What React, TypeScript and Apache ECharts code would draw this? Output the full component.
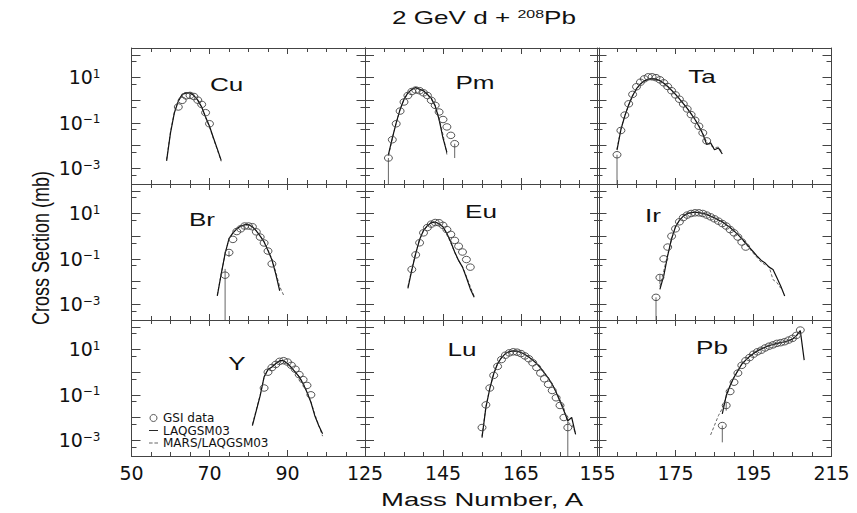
import React, { useEffect, useRef } from 'react';
import * as echarts from 'echarts';

const W = 857;
const H = 513;

// ---------------- data (cross sections in mb, consecutive mass numbers from *Start) ----------------
const panelNames = ['Cu', 'Pm', 'Ta', 'Br', 'Eu', 'Ir', 'Y', 'Lu', 'Pb'];
const colMin = [50, 125, 155];
const colSpan = 60;
const colTickLabels = [[50, 70, 90], [125, 145, 165], [155, 175, 195, 215]];
const yTickLabelExps = [1, -1, -3];
const yMin = 2e-4;
const yMax = 200;

const cuGsiStart = 62;
const cuGsi = [0.5, 0.98, 1.55, 1.62, 1.45, 1.0, 0.65, 0.28, 0.091];
const cuLaqStart = 59;
const cuLaq = [0.0021, 0.036, 0.28, 0.91, 1.8, 2.1, 2.1, 1.6, 1.0, 0.5, 0.18, 0.071, 0.022, 0.0071, 0.0022];
const cuMarsStart = 59;
const cuMars = [0.0024, 0.04, 0.3, 0.95, 1.75, 2.0, 2.0, 1.55, 0.95, 0.48, 0.17, 0.065, 0.02, 0.0065, 0.002];

const pmGsiStart = 131;
const pmGsi = [0.0028, 0.018, 0.091, 0.33, 0.83, 1.6, 2.4, 2.8, 2.6, 2.1, 1.6, 0.98, 0.59, 0.3, 0.14, 0.066, 0.028, 0.012];
const pmLaqStart = 131;
const pmLaq = [0.0039, 0.021, 0.1, 0.39, 1.1, 2.1, 3.0, 3.6, 3.0, 2.6, 1.8, 1.2, 0.55, 0.14, 0.021, 0.005];
const pmMarsStart = 131;
const pmMars = [0.0035, 0.02, 0.1, 0.38, 1.05, 2.0, 2.9, 3.4, 3.1, 2.5, 1.7, 1.1, 0.6, 0.16, 0.03, 0.004];

const taGsiStart = 160;
const taGsi = [0.0039, 0.046, 0.22, 0.69, 1.8, 3.9, 6.2, 8.7, 10.7, 10.7, 9.8, 7.9, 5.8, 4.0, 2.6, 1.7, 1.1, 0.68, 0.41, 0.23, 0.13, 0.071, 0.036, 0.016];
const taLaqStart = 160;
const taLaq = [0.0063, 0.05, 0.2, 0.63, 1.6, 3.2, 5.2, 7.1, 8.5, 8.9, 8.5, 7.2, 5.6, 4.0, 2.7, 1.8, 1.15, 0.71, 0.43, 0.25, 0.14, 0.071, 0.032, 0.011, 0.013, 0.0065, 0.0078, 0.0042];
const taMarsStart = 160;
const taMars = [0.007, 0.055, 0.21, 0.6, 1.5, 3.0, 5.0, 7.0, 8.3, 8.8, 8.4, 7.3, 5.7, 4.1, 2.8, 1.85, 1.2, 0.74, 0.45, 0.26, 0.15, 0.075, 0.035, 0.014, 0.01, 0.008, 0.0085, 0.005];

const brGsiStart = 74;
const brGsi = [0.019, 0.19, 0.72, 1.6, 2.1, 2.8, 2.8, 2.6, 1.55, 0.91, 0.5, 0.22, 0.06];
const brLaqStart = 72;
const brLaq = [0.0023, 0.021, 0.17, 0.78, 1.4, 2.1, 2.8, 3.2, 3.2, 2.6, 1.7, 1.0, 0.55, 0.23, 0.091, 0.021, 0.0039];
const brMarsStart = 72;
const brMars = [0.0025, 0.022, 0.16, 0.75, 1.35, 2.0, 2.7, 3.1, 3.1, 2.6, 1.75, 1.05, 0.58, 0.25, 0.1, 0.026, 0.006, 0.0025];

const euGsiStart = 137;
const euGsi = [0.034, 0.15, 0.51, 1.4, 2.4, 3.4, 4.0, 3.9, 3.0, 1.95, 1.2, 0.65, 0.36, 0.2, 0.093, 0.043];
const euLaqStart = 136;
const euLaq = [0.005, 0.032, 0.17, 0.71, 1.8, 2.9, 4.0, 4.2, 3.5, 2.6, 1.3, 0.55, 0.2, 0.085, 0.043, 0.015, 0.0047, 0.002];
const euMarsStart = 136;
const euMars = [0.006, 0.035, 0.18, 0.7, 1.7, 2.8, 3.8, 4.1, 3.5, 2.5, 1.25, 0.5, 0.19, 0.08, 0.045, 0.017, 0.006, 0.0022];

const irGsiStart = 170;
const irGsi = [0.002, 0.015, 0.1, 0.33, 1.0, 2.1, 4.3, 6.6, 8.5, 10, 10.7, 10.7, 10, 8.5, 7.1, 5.8, 4.6, 3.6, 2.8, 1.95, 1.4, 0.91, 0.55, 0.33];
const irLaqStart = 171;
const irLaq = [0.0045, 0.018, 0.14, 0.78, 2.6, 5.0, 7.6, 10, 11, 11.5, 11, 10.2, 9.1, 7.6, 6.5, 5.2, 4.3, 3.2, 2.4, 1.7, 1.17, 0.78, 0.5, 0.31, 0.2, 0.126, 0.085, 0.065, 0.043, 0.034, 0.0145, 0.0062, 0.0023];
const irMarsStart = 171;
const irMars = [0.006, 0.03, 0.16, 0.75, 2.5, 4.9, 7.5, 9.8, 10.8, 11.2, 10.8, 10, 9, 7.6, 6.4, 5.2, 4.2, 3.2, 2.4, 1.7, 1.15, 0.74, 0.46, 0.28, 0.17, 0.11, 0.07, 0.055, 0.045, 0.012, 0.009, 0.005];

const yGsiStart = 84;
const yGsi = [0.2, 1.0, 1.6, 2.2, 3.0, 3.2, 2.8, 2.0, 1.35, 0.78, 0.47, 0.26, 0.1];
const yLaqStart = 81;
const yLaq = [0.0044, 0.02, 0.093, 0.62, 1.3, 1.7, 2.4, 3.2, 3.2, 2.4, 1.6, 1.0, 0.62, 0.31, 0.13, 0.047, 0.012, 0.0044, 0.0019];
const yMarsStart = 81;
const yMars = [0.005, 0.022, 0.1, 0.6, 1.25, 1.65, 2.3, 3.0, 3.1, 2.4, 1.6, 1.05, 0.65, 0.33, 0.14, 0.05, 0.014, 0.0045, 0.0015];

const luGsiStart = 155;
const luGsi = [0.0036, 0.036, 0.2, 0.72, 1.8, 3.6, 5.6, 7.1, 7.9, 7.6, 6.6, 5.2, 3.9, 2.6, 1.6, 0.91, 0.51, 0.29, 0.155, 0.074, 0.034, 0.01, 0.0036];
const luLaqStart = 155;
const luLaq = [0.0013, 0.028, 0.19, 0.85, 2.4, 4.4, 6.6, 8.1, 8.7, 8.5, 7.4, 6.0, 4.7, 3.4, 2.4, 1.55, 0.91, 0.55, 0.29, 0.13, 0.052, 0.02, 0.0072, 0.01, 0.0018];
const luMarsStart = 155;
const luMars = [0.0015, 0.03, 0.2, 0.82, 2.3, 4.3, 6.4, 7.9, 8.5, 8.4, 7.4, 6.1, 4.8, 3.5, 2.5, 1.6, 0.95, 0.57, 0.3, 0.14, 0.06, 0.025, 0.006, 0.005, 0.002];

const pbGsiStart = 187;
const pbGsi = [0.0044, 0.034, 0.14, 0.36, 0.91, 2.0, 3.2, 4.4, 6.2, 7.9, 9.3, 11.7, 14, 16, 18.6, 20, 22, 26, 31, 42, 72];
const pbLaqStart = 187;
const pbLaq = [0.0145, 0.093, 0.26, 0.6, 1.17, 2.3, 3.4, 5.0, 6.6, 8.7, 10.7, 12.6, 15, 16.6, 18.6, 20.4, 21.9, 24.5, 28.8, 40.7, 67.6, 3.4];
const pbMarsStart = 184;
const pbMars = [0.0017, 0.0045, 0.012, 0.025, 0.08, 0.24, 0.58, 1.1, 2.2, 3.3, 4.8, 6.4, 8.4, 10.4, 12.3, 14.6, 16.4, 18.2, 20, 21.5, 24, 28, 39, 65];

// error bars: panel, mass number, upper, lower (mb)
const errPanel = ['Pm', 'Pm', 'Ta', 'Br', 'Br', 'Ir', 'Ir', 'Lu', 'Pb', 'Pb'];
const errMass = [131, 148, 160, 74, 75, 170, 171, 177, 187, 188];
const errHigh = [0.0028, 0.012, 0.0039, 0.036, 0.22, 0.002, 0.02, 0.0085, 0.0044, 0.045];
const errLow = [2e-4, 0.0028, 2e-4, 2e-4, 0.12, 2e-4, 0.0078, 2e-4, 0.0008, 0.02];

// ---------------- layout / style ----------------
const gridLeft = [131.5, 365, 597.5];
const gridTop = [48, 184, 320];
const gridW = 234;
const gridH = 136;
const labelXY: number[][] = [
  [226.7, 85], [475, 83], [702, 77],
  [202, 220], [481, 212], [653, 216],
  [237, 364], [462, 350], [712, 348],
];
const FONT = 'DejaVu Sans';
const TFONT = 'Liberation Sans';
const STRETCH = 1.45;
const AXIS = '#444';
const INK = '#111';
const SOLID = '#111';
const DASHED = '#666';
const CIRCLE = '#444';

const panelSeries: Record<string, any> = {
  Cu: { gs: cuGsiStart, g: cuGsi, ls: cuLaqStart, l: cuLaq, ms: cuMarsStart, m: cuMars },
  Pm: { gs: pmGsiStart, g: pmGsi, ls: pmLaqStart, l: pmLaq, ms: pmMarsStart, m: pmMars },
  Ta: { gs: taGsiStart, g: taGsi, ls: taLaqStart, l: taLaq, ms: taMarsStart, m: taMars },
  Br: { gs: brGsiStart, g: brGsi, ls: brLaqStart, l: brLaq, ms: brMarsStart, m: brMars },
  Eu: { gs: euGsiStart, g: euGsi, ls: euLaqStart, l: euLaq, ms: euMarsStart, m: euMars },
  Ir: { gs: irGsiStart, g: irGsi, ls: irLaqStart, l: irLaq, ms: irMarsStart, m: irMars },
  Y: { gs: yGsiStart, g: yGsi, ls: yLaqStart, l: yLaq, ms: yMarsStart, m: yMars },
  Lu: { gs: luGsiStart, g: luGsi, ls: luLaqStart, l: luLaq, ms: luMarsStart, m: luMars },
  Pb: { gs: pbGsiStart, g: pbGsi, ls: pbLaqStart, l: pbLaq, ms: pbMarsStart, m: pbMars },
};

const toPairs = (start: number, vals: number[]) => vals.map((v, k) => [start + k, v]);

function buildOption() {
  const grid: any[] = [];
  const xAxis: any[] = [];
  const yAxis: any[] = [];
  const series: any[] = [];
  const graphic: any[] = [];

  panelNames.forEach((name, i) => {
    const r = Math.floor(i / 3);
    const c = i % 3;
    grid.push({ left: gridLeft[c], top: gridTop[r], width: gridW, height: gridH });

    const xBase = {
      gridIndex: i,
      type: 'value',
      min: colMin[c],
      max: colMin[c] + colSpan,
      interval: 20,
      splitLine: { show: false },
      minorSplitLine: { show: false },
      axisLine: { show: true, onZero: false, lineStyle: { color: AXIS, width: 1 } },
      axisTick: { show: true, inside: true, length: 6, lineStyle: { color: AXIS } },
      minorTick: { show: true, splitNumber: 4, length: 4, lineStyle: { color: AXIS } },
    };
    xAxis.push({
      ...xBase,
      position: 'bottom',
      axisLabel: {
        show: r === 2,
        margin: 7,
        fontSize: 19,
        fontFamily: FONT,
        color: INK,
        formatter: (v: number) => (colTickLabels[c].includes(v) ? String(v) : ''),
      },
    });
    xAxis.push({ ...xBase, position: 'top', axisLabel: { show: false } });

    const yBase = {
      gridIndex: i,
      type: 'log',
      logBase: 10,
      min: yMin,
      max: yMax,
      splitNumber: 6,
      splitLine: { show: false },
      minorTick: { show: false },
      axisLine: { show: true, onZero: false, lineStyle: { color: AXIS, width: 1 } },
      axisTick: { show: true, inside: true, length: 9, lineStyle: { color: AXIS } },
    };
    yAxis.push({
      ...yBase,
      position: 'left',
      axisLabel: {
        show: c === 0,
        margin: 31,
        color: INK,
        formatter: (v: number) => {
          const e = Math.log10(v);
          const k = Math.round(e);
          if (Math.abs(e - k) > 1e-6 || !yTickLabelExps.includes(k)) return '';
          return `{b|10}{s|${k < 0 ? '\u2212' + -k : k}}`;
        },
        rich: {
          b: { fontSize: 19, fontFamily: FONT, color: INK },
          s: { fontSize: 12, fontFamily: FONT, color: INK, verticalAlign: 'top', lineHeight: 12 },
        },
      },
    });
    yAxis.push({ ...yBase, position: 'right', axisLabel: { show: false } });
    const yMinorBase = {
      gridIndex: i,
      type: 'log',
      logBase: 10,
      min: yMin * 2,
      max: yMax * 2,
      splitNumber: 6,
      splitLine: { show: false },
      axisLine: { show: false },
      axisTick: { show: true, inside: true, length: 5, lineStyle: { color: AXIS } },
      axisLabel: { show: false },
    };
    yAxis.push({ ...yMinorBase, position: 'left' });
    yAxis.push({ ...yMinorBase, position: 'right' });

    const p = panelSeries[name];
    const xi = 2 * i;
    const yi = 4 * i;
    series.push({
      type: 'line',
      name: 'MARS/LAQGSM03',
      xAxisIndex: xi,
      yAxisIndex: yi,
      data: toPairs(p.ms, p.m),
      symbol: 'none',
      itemStyle: { color: DASHED },
      lineStyle: { color: DASHED, width: 1, type: [3, 2] },
      z: 2,
    });
    series.push({
      type: 'line',
      name: 'LAQGSM03',
      xAxisIndex: xi,
      yAxisIndex: yi,
      data: toPairs(p.ls, p.l),
      symbol: 'none',
      itemStyle: { color: SOLID },
      lineStyle: { color: SOLID, width: 1.2 },
      z: 3,
    });
    const errs: number[][] = [];
    errPanel.forEach((pn, k) => {
      if (pn === name) errs.push([errMass[k], errHigh[k], errLow[k]]);
    });
    if (errs.length) {
      series.push({
        type: 'custom',
        name: 'GSI error',
        xAxisIndex: xi,
        yAxisIndex: yi,
        data: errs,
        z: 3,
        renderItem: (_params: any, api: any) => {
          const a = api.coord([api.value(0), api.value(1)]);
          const b = api.coord([api.value(0), api.value(2)]);
          return {
            type: 'line',
            shape: { x1: a[0], y1: a[1], x2: b[0], y2: b[1] },
            style: { stroke: '#666', lineWidth: 1 },
          };
        },
      });
    }
    series.push({
      type: 'scatter',
      name: 'GSI data',
      xAxisIndex: xi,
      yAxisIndex: yi,
      data: toPairs(p.gs, p.g),
      symbol: 'circle',
      symbolSize: [8, 6.5],
      itemStyle: { color: 'rgba(255,255,255,0)', borderColor: CIRCLE, borderWidth: 0.9, opacity: 1 },
      z: 4,
    });

    graphic.push({
      type: 'text',
      x: labelXY[i][0],
      y: labelXY[i][1],
      scaleX: STRETCH,
      style: {
        text: name,
        fontSize: 18,
        fontFamily: TFONT,
        fill: INK,
        textAlign: 'center',
        textVerticalAlign: 'middle',
      },
      z: 10,
    });
  });

  graphic.push({
    type: 'text',
    x: 484,
    y: 18,
    scaleX: STRETCH,
    style: {
      text: '{a|2 GeV d + }{s|208}{a|Pb}',
      textAlign: 'center',
      textVerticalAlign: 'middle',
      rich: {
        a: { fontSize: 18, fontFamily: TFONT, fill: INK, color: INK },
        s: { fontSize: 11, fontFamily: TFONT, fill: INK, color: INK, verticalAlign: 'top', lineHeight: 11 },
      },
    },
  });
  graphic.push({
    type: 'text',
    x: 482,
    y: 500,
    scaleX: STRETCH,
    style: {
      text: 'Mass Number, A',
      fontSize: 19,
      fontFamily: TFONT,
      fill: INK,
      textAlign: 'center',
      textVerticalAlign: 'middle',
    },
  });
  graphic.push({
    type: 'text',
    x: 41,
    y: 248,
    rotation: Math.PI / 2,
    scaleY: 1.35,
    style: {
      text: 'Cross Section (mb)',
      fontSize: 18,
      fontFamily: TFONT,
      fill: INK,
      textAlign: 'center',
      textVerticalAlign: 'middle',
    },
  });

  return {
    animation: false,
    backgroundColor: '#fff',
    textStyle: { fontFamily: FONT },
    legend: {
      show: true,
      data: [
        {
          name: 'GSI data',
          icon: 'circle',
          itemStyle: { color: 'rgba(255,255,255,0)', borderColor: CIRCLE, borderWidth: 0.9 },
        },
        { name: 'LAQGSM03', icon: 'path://M0 0H10V1H0Z', itemStyle: { color: SOLID } },
        { name: 'MARS/LAQGSM03', icon: 'path://M0 0H4V1H0Z M6 0H10V1H6Z', itemStyle: { color: DASHED } },
      ],
      orient: 'vertical',
      left: 149,
      top: 412,
      padding: 0,
      itemGap: 0.5,
      itemWidth: 9,
      itemHeight: 7,
      selectedMode: false,
      textStyle: { fontSize: 12, fontFamily: FONT, color: INK, lineHeight: 12 },
    },
    grid,
    xAxis,
    yAxis,
    series,
    graphic,
  };
}

export default function App() {
  const ref = useRef<HTMLDivElement>(null);
  useEffect(() => {
    const chart = echarts.init(ref.current as HTMLDivElement, null, { renderer: 'svg' });
    chart.setOption(buildOption() as any);
    return () => chart.dispose();
  }, []);
  return (
    <div
      ref={ref}
      style={{ position: 'fixed', left: 0, top: 0, width: W, height: H, background: '#fff' }}
    />
  );
}
